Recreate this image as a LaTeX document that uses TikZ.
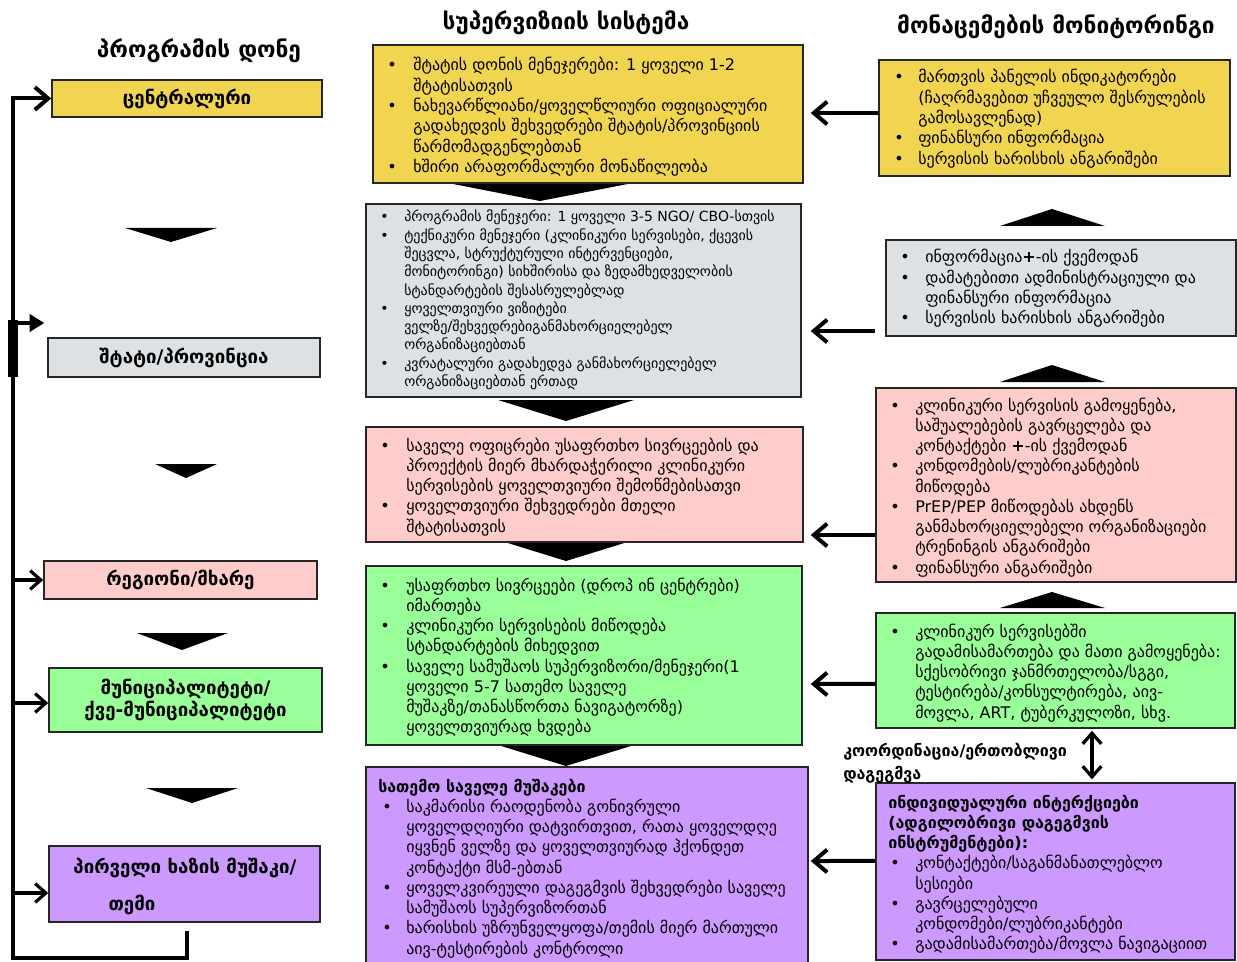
\documentclass[tikz,border=0pt]{standalone}
\usepackage{fontspec}
\setmainfont{DejaVu Sans}
\usepackage{array}
\usetikzlibrary{arrows.meta,calc,fit}
\definecolor{cyel}{HTML}{F1D44F}
\definecolor{cgray}{HTML}{DDE1E4}
\definecolor{cpink}{HTML}{FFCCCC}
\definecolor{cgreen}{HTML}{99FF99}
\definecolor{cpurp}{HTML}{CC99FF}
\newcommand{\bl}{\textbullet}
\newcommand{\bodyA}{\fontsize{12}{15.2}\selectfont}
\newcommand{\bodyB}{\fontsize{10.5}{13.7}\selectfont}
\tikzset{
  box/.style={draw=black!85, line width=1.1pt, inner sep=0pt},
  txt/.style={inner sep=0pt, anchor=base west},
  head/.style={inner sep=0pt, font=\fontsize{17}{20}\selectfont\bfseries},
  lab/.style={inner sep=0pt, font=\fontsize{14}{17}\selectfont\bfseries},
  bigarr/.style={line width=3pt, -{Straight Barb[length=10pt,width=17pt]}},
  smallarr/.style={line width=2.4pt, -{Straight Barb[length=8pt,width=14pt]}},
  mainline/.style={line width=3pt},
}
\begin{document}
\begin{tikzpicture}[x=0.75pt,y=-0.75pt]
\useasboundingbox (0,0) rectangle (1237,962);

% headers
\node[head] (h1) at (199,51) {პროგრამის დონე};
\node[head] (h2) at (566,23) {სუპერვიზიის სისტემა};
\node[head] (h3) at (1056,27) {მონაცემების მონიტორინგი};

% left column boxes
\node[box, fill=cyel, fit={(52,80) (322,117)}] (c1) {};
\node[lab] at (c1.center) {ცენტრალური};
\node[box, fill=cgray, fit={(48,338) (320,377)}] (c2) {};
\node[lab] at (c2.center) {შტატი/პროვინცია};
\node[box, fill=cpink, fit={(44,561) (317,599)}] (c3) {};
\node[lab] at (c3.center) {რეგიონი/მხარე};
\node[box, fill=cgreen, fit={(49,668) (322,732)}] (c4) {};
\node[lab, align=center] at (c4.center) {მუნიციპალიტეტი/\\ქვე-მუნიციპალიტეტი};
\node[box, fill=cpurp, fit={(49,846) (320,922)}] (c5) {};
\node[lab] (c5a) at (185,868) {პირველი ხაზის მუშაკი/};
\node[lab] (c5b) at (132,905) {თემი};

% left triangles
\fill (125,228) -- (217,228) -- (171,242) -- cycle;
\fill (155,464) -- (217,464) -- (186,478) -- cycle;
\fill (137,633) -- (228,633) -- (182,650) -- cycle;
\fill (146,788) -- (238,788) -- (192,803) -- cycle;

% left loop
\coordinate (lb) at (13,958);
\draw[mainline, -{Straight Barb[length=10pt,width=17pt]}] ($(c5.south)+(2.5,8)$) |- (lb) |- (c1.west);
\fill (8,320) rectangle (18,377);
\coordinate (s2) at (13,323);
\draw[line width=2.4pt, -{Triangle[length=11pt,width=13pt]}] (s2) -- ($(c2.west |- s2)+(-3,0)$);
\draw[smallarr] (lb |- c3.west) -- (c3.west);
\draw[smallarr] ($(lb |- c4.west)+(0,3)$) -- ($(c4.west)+(0,3)$);
\draw[smallarr] ($(lb |- c5.west)+(0,9)$) -- ($(c5.west)+(0,9)$);

% middle column boxes
\fill (448,183) -- (633,183) -- (540,201) -- cycle;
\fill (498,400) -- (634,400) -- (566,421) -- cycle;
\fill (498,540) -- (634,540) -- (566,561) -- cycle;
\fill (498,745) -- (634,745) -- (566,766) -- cycle;

\node[box, fill=cyel, fit={(373,45) (803,183)}] (m1) {};
\node[txt] (m1t) at (387,71) {\bodyA
\begin{tabular}[t]{@{}p{19.5pt}@{}l@{}}
\bl & შტატის დონის მენეჯერები: 1 ყოველი 1-2\\
 & შტატისათვის\\
\bl & ნახევარწლიანი/ყოველწლიური ოფიციალური\\
 & გადახედვის შეხვედრები შტატის/პროვინციის\\
 & წარმომადგენლებთან\\
\bl & ხშირი არაფორმალური მონაწილეობა
\end{tabular}};

\node[box, fill=cgray, fit={(366,204) (801,397)}] (m2) {};
\node[txt] (m2t) at (380,222) {\bodyB
\begin{tabular}[t]{@{}p{18pt}@{}l@{}}
\bl & პროგრამის მენეჯერი: 1 ყოველი 3-5 NGO/ CBO-სთვის\\
\bl & ტექნიკური მენეჯერი (კლინიკური სერვისები, ქცევის\\
 & შეცვლა, სტრუქტურული ინტერვენციები,\\
 & მონიტორინგი) სიხშირისა და ზედამხედველობის\\
 & სტანდარტების შესასრულებლად\\
\bl & ყოველთვიური ვიზიტები\\
 & ველზე/შეხვედრებიგანმახორციელებელ\\
 & ორგანიზაციებთან\\
\bl & კვრატალური გადახედვა განმახორციელებელ\\
 & ორგანიზაციებთან ერთად
\end{tabular}};

\node[box, fill=cpink, fit={(366,427) (803,542)}] (m3) {};
\node[txt] (m3t) at (380,451) {\bodyA
\begin{tabular}[t]{@{}p{19.5pt}@{}l@{}}
\bl & საველე ოფიცრები უსაფრთხო სივრცეების და\\
 & პროექტის მიერ მხარდაჭერილი კლინიკური\\
 & სერვისების ყოველთვიური შემოწმებისათვი\\
\bl & ყოველთვიური შეხვედრები მთელი\\
 & შტატისათვის
\end{tabular}};

\node[box, fill=cgreen, fit={(366,566) (802,745)}] (m4) {};
\node[txt] (m4t) at (380,591) {\bodyA
\begin{tabular}[t]{@{}p{19.5pt}@{}l@{}}
\bl & უსაფრთხო სივრცეები (დროპ ინ ცენტრები)\\
 & იმართება\\
\bl & კლინიკური სერვისების მიწოდება\\
 & სტანდარტების მიხედვით\\
\bl & საველე სამუშაოს სუპერვიზორი/მენეჯერი(1\\
 & ყოველი 5-7 სათემო საველე\\
 & მუშაკზე/თანასწორთა ნავიგატორზე)\\
 & ყოველთვიურად ხვდება
\end{tabular}};

\node[box, fill=cpurp, fit={(366,767) (808,970)}] (m5) {};
\node[txt] (m5t) at (382,792) {\bodyA
\begin{tabular}[t]{@{}p{18pt}@{}l@{}}
\multicolumn{2}{@{\hspace{-3pt}}l@{}}{\bfseries სათემო საველე მუშაკები}\\
\bl & საკმარისი რაოდენობა გონივრული\\
 & ყოველდღიური დატვირთვით, რათა ყოველდღე\\
 & იყვნენ ველზე და ყოველთვიურად ჰქონდეთ\\
 & კონტაქტი მსმ-ებთან\\
\bl & ყოველკვირეული დაგეგმვის შეხვედრები საველე\\
 & სამუშაოს სუპერვიზორთან\\
\bl & ხარისხის უზრუნველყოფა/თემის მიერ მართული\\
 & აივ-ტესტირების კონტროლი
\end{tabular}};

% right column
\fill (1000,226) -- (1105,226) -- (1052,209) -- cycle;
\fill (1000,382) -- (1105,382) -- (1052,365) -- cycle;
\fill (1000,608) -- (1105,608) -- (1052,592) -- cycle;

\node[box, fill=cyel, fit={(879,60) (1230,176)}] (r1) {};
\node[txt] (r1t) at (894,83) {\bodyA
\begin{tabular}[t]{@{}p{18pt}@{}l@{}}
\bl & მართვის პანელის ინდიკატორები\\
 & (ჩაღრმავებით უჩვეულო შესრულების\\
 & გამოსავლენად)\\
\bl & ფინანსური ინფორმაცია\\
\bl & სერვისის ხარისხის ანგარიშები
\end{tabular}};

\node[box, fill=cgray, fit={(886,240) (1236,336)}] (r2) {};
\node[txt] (r2t) at (900,263) {\bodyA
\begin{tabular}[t]{@{}p{18.75pt}@{}l@{}}
\bl & ინფორმაცია\textbf{+}-ის ქვემოდან\\
\bl & დამატებითი ადმინისტრაციული და\\
 & ფინანსური ინფორმაცია\\
\bl & სერვისის ხარისხის ანგარიშები
\end{tabular}};

\node[box, fill=cpink, fit={(876,388) (1236,582)}] (r3) {};
\node[txt] (r3t) at (890,411) {\bodyA
\begin{tabular}[t]{@{}p{18.75pt}@{}l@{}}
\bl & კლინიკური სერვისის გამოყენება,\\
 & საშუალებების გავრცელება და\\
 & კონტაქტები \textbf{+}-ის ქვემოდან\\
\bl & კონდომების/ლუბრიკანტების\\
 & მიწოდება\\
\bl & PrEP/PEP მიწოდებას ახდენს\\
 & განმახორციელებელი ორგანიზაციები\\
 & ტრენინგის ანგარიშები\\
\bl & ფინანსური ანგარიშები
\end{tabular}};

\node[box, fill=cgreen, fit={(876,613) (1235,728)}] (r4) {};
\node[txt] (r4t) at (890,637) {\bodyA
\begin{tabular}[t]{@{}p{18.75pt}@{}l@{}}
\bl & კლინიკურ სერვისებში\\
 & გადამისამართება და მათი გამოყენება:\\
 & სქესობრივი ჯანმრთელობა/სგგი,\\
 & ტესტირება/კონსულტირება, აივ-\\
 & მოვლა, ART, ტუბერკულოზი, სხვ.
\end{tabular}};

\node[box, fill=cpurp, fit={(876,783) (1235,960)}] (r5) {};
\node[txt] (r5t) at (890,808) {\bodyA
\begin{tabular}[t]{@{}p{18.75pt}@{}l@{}}
\multicolumn{2}{@{\hspace{-1.5pt}}l@{}}{\bfseries ინდივიდუალური ინტერქციები}\\
\multicolumn{2}{@{\hspace{-1.5pt}}l@{}}{\bfseries (ადგილობრივი დაგეგმვის}\\
\multicolumn{2}{@{\hspace{-1.5pt}}l@{}}{\bfseries ინსტრუმენტები):}\\
\bl & კონტაქტები/საგანმანათლებლო\\
 & სესიები\\
\bl & გავრცელებული\\
 & კონდომები/ლუბრიკანტები\\
\bl & გადამისამართება/მოვლა ნავიგაციით
\end{tabular}};

\node[inner sep=0pt, anchor=base west, align=left, font=\fontsize{12}{17.25}\selectfont\bfseries] (coord) at (843,779) {კოორდინაცია/ერთობლივი\\დაგეგმვა};

\draw[line width=2.4pt, {Straight Barb[length=8pt,width=14pt]}-{Straight Barb[length=8pt,width=14pt]}] ($(r4.south)+(36.5,2)$) -- ($(r5.north)+(36.5,-3)$);

% right-to-middle arrows
\draw[bigarr] ([yshift=3.75pt]r1.west) -- ($(m1.east |- r1.west)+(7,-5)$);
\coordinate (a2) at ($(r2.west)+(-10,43)$);
\draw[bigarr] (a2) -- ($(m2.east |- a2)+(9,0)$);
\draw[bigarr] ([yshift=-37.5pt]r3.west) -- ($(m3.east |- r3.west)+(7,50)$);
\draw[bigarr] ([yshift=-10pt]r4.west) -- ($(m4.east |- r4.west)+(8,13.5)$);
\draw[bigarr] ([yshift=7.9pt]r5.west) -- ($(m5.east |- r5.west)+(2,-10.5)$);
\end{tikzpicture}
\end{document}
